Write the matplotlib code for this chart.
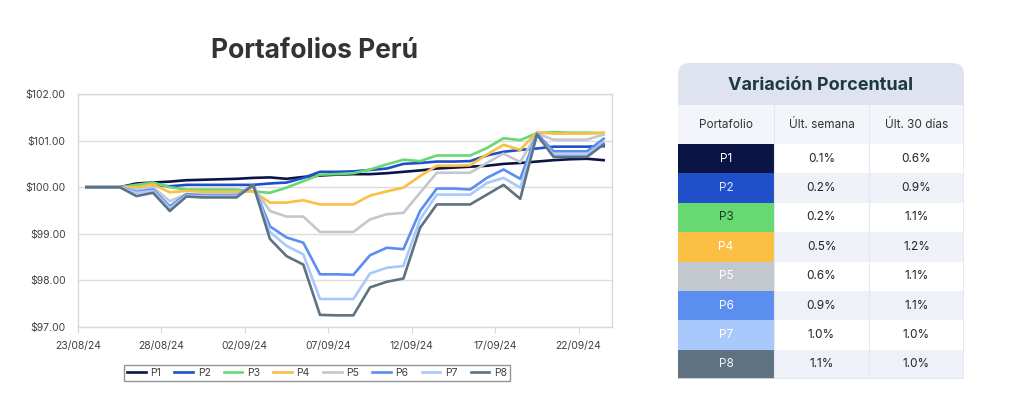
import numpy as np
import matplotlib.pyplot as plt
from matplotlib.patches import Rectangle, FancyBboxPatch

plt.rcParams['font.family'] = ['Inter', 'DejaVu Sans']

# daily values, 23/08/24 .. 23/09/24 (32 days, weekends included)
tick_labels = ['23/08/24', '28/08/24', '02/09/24', '07/09/24',
               '12/09/24', '17/09/24', '22/09/24']

p1 = [100.00, 100.00, 100.00, 100.08, 100.10, 100.12, 100.15, 100.16,
      100.17, 100.18, 100.20, 100.21, 100.18, 100.22, 100.25, 100.27,
      100.28, 100.28, 100.30, 100.33, 100.36, 100.40, 100.42, 100.44,
      100.46, 100.50, 100.52, 100.55, 100.58, 100.60, 100.61, 100.58]
p2 = [100.00, 100.00, 100.00, 100.05, 100.05, 100.02, 100.05, 100.05,
      100.05, 100.05, 100.05, 100.08, 100.10, 100.20, 100.33, 100.33,
      100.34, 100.37, 100.40, 100.50, 100.52, 100.55, 100.55, 100.56,
      100.68, 100.76, 100.80, 100.83, 100.87, 100.87, 100.87, 100.88]
p3 = [100.00, 100.00, 100.00, 100.05, 100.10, 100.00, 99.95, 99.95,
      99.95, 99.95, 99.91, 99.88, 99.99, 100.13, 100.27, 100.28,
      100.30, 100.38, 100.49, 100.59, 100.56, 100.68, 100.68, 100.68,
      100.84, 101.05, 101.01, 101.16, 101.18, 101.17, 101.17, 101.16]
p4 = [100.00, 100.00, 100.00, 100.00, 100.06, 99.89, 99.92, 99.90,
      99.90, 99.90, 99.91, 99.67, 99.67, 99.72, 99.63, 99.63,
      99.63, 99.82, 99.91, 99.99, 100.24, 100.46, 100.46, 100.47,
      100.70, 100.91, 100.80, 101.18, 101.15, 101.15, 101.15, 101.17]
p5 = [100.00, 100.00, 100.00, 99.95, 100.00, 99.70, 99.85, 99.85,
      99.85, 99.85, 100.00, 99.49, 99.37, 99.37, 99.04, 99.04,
      99.04, 99.31, 99.42, 99.45, 99.88, 100.31, 100.31, 100.31,
      100.52, 100.72, 100.54, 101.15, 101.02, 101.02, 101.02, 101.13]
p6 = [100.00, 100.00, 100.00, 99.90, 99.95, 99.59, 99.85, 99.82,
      99.82, 99.82, 100.05, 99.16, 98.92, 98.81, 98.13, 98.13,
      98.12, 98.54, 98.70, 98.67, 99.49, 99.97, 99.97, 99.95,
      100.20, 100.38, 100.18, 101.15, 100.77, 100.77, 100.77, 101.04]
p7 = [100.00, 100.00, 100.00, 99.88, 99.92, 99.55, 99.82, 99.80,
      99.80, 99.80, 100.05, 99.04, 98.74, 98.56, 97.60, 97.60,
      97.60, 98.15, 98.27, 98.31, 99.31, 99.84, 99.84, 99.84,
      100.09, 100.20, 99.99, 101.12, 100.70, 100.70, 100.70, 100.97]
p8 = [100.00, 100.00, 100.00, 99.81, 99.88, 99.49, 99.80, 99.78,
      99.78, 99.78, 100.05, 98.89, 98.52, 98.34, 97.26, 97.25,
      97.25, 97.85, 97.97, 98.04, 99.13, 99.63, 99.63, 99.63,
      99.84, 100.05, 99.75, 101.13, 100.65, 100.65, 100.65, 100.92]

names = ['P1', 'P2', 'P3', 'P4', 'P5', 'P6', 'P7', 'P8']
series = [p1, p2, p3, p4, p5, p6, p7, p8]
colors = ['#0b1545', '#1f4fc9', '#68d872', '#fbbf44',
          '#c3c8ce', '#5b8eee', '#a9c8fb', '#5e7282']

# table
ult_semana = ['0.1%', '0.2%', '0.2%', '0.5%', '0.6%', '0.9%', '1.0%', '1.1%']
ult_30 = ['0.6%', '0.9%', '1.1%', '1.2%', '1.1%', '1.1%', '1.0%', '1.0%']
label_colors = ['#ffffff', '#dfe6f7', '#1d3a2a', '#ffffff',
                '#ffffff', '#ffffff', '#ffffff', '#eef2f6']

W, H = 1024, 417
fig = plt.figure(figsize=(W / 100, H / 100), dpi=100)

# ---- line chart
ax = fig.add_axes([78 / W, 1 - 327 / H, (612 - 78) / W, (327 - 94) / H])
x = np.arange(len(p1)) + 0.5
for name, vals, c in zip(names, series, colors):
    ax.plot(x, vals, color=c, lw=1.9, label=name, solid_joinstyle='round')

ax.set_xlim(0, len(p1))
ax.set_ylim(97, 102)
ax.set_yticks(np.arange(97, 102.5, 1))
ax.set_yticklabels([f'${v:.2f}' for v in np.arange(97, 102.5, 1)])
ax.set_xticks(np.arange(0, 31, 5))
ax.set_xticklabels(tick_labels)
ax.tick_params(axis='y', length=0, pad=9, labelsize=7.5, labelcolor='#404040')
ax.tick_params(axis='x', length=4, color='#d9d9d9', pad=6, labelsize=7.5,
               labelcolor='#404040')
ax.grid(axis='y', color='#dcdcdc', lw=1)
ax.set_axisbelow(True)
for s in ax.spines.values():
    s.set_color('#d9d9d9')
    s.set_linewidth(1)

fig.text(315 / W, 1 - 51 / H, 'Portafolios Perú', ha='center', va='center',
         fontsize=19, fontweight='bold', color='#333333')

leg = fig.legend(loc='center', bbox_to_anchor=(317 / W, 1 - 373 / H), ncol=8,
                 fontsize=7.5, frameon=True, fancybox=False, handlelength=1.8,
                 columnspacing=1.25, handletextpad=0.45, borderpad=0.3)
leg.get_frame().set_edgecolor('#7a7a7a')
leg.get_frame().set_linewidth(1)
for t in leg.get_texts():
    t.set_color('#404040')

# ---- table (pixel coordinates inside its own axes)
tx0, tx1, ty0, ty1 = 678, 964, 62, 379
tab = fig.add_axes([tx0 / W, 1 - ty1 / H, (tx1 - tx0) / W, (ty1 - ty0) / H])
tab.set_xlim(0, tx1 - tx0)
tab.set_ylim(ty1 - ty0, 0)
tab.axis('off')

col_x = [0, 96, 191, 286]
head_h = 43
colh_h = 39
row_h = (ty1 - ty0 - head_h - colh_h) / len(names)

tab.add_patch(FancyBboxPatch((0, 1), 286, head_h + 20,
                             boxstyle='round,pad=0,rounding_size=12',
                             fc='#dee3ef', ec='none'))
tab.text(143, head_h / 2 + 2, 'Variación Porcentual', ha='center', va='center',
         fontsize=13, fontweight='bold', color='#1c3b3c')

tab.add_patch(Rectangle((0, head_h), 286, colh_h, fc='#f3f5fa', ec='none'))
for i, h in enumerate(['Portafolio', 'Últ. semana', 'Últ. 30 días']):
    tab.text((col_x[i] + col_x[i + 1]) / 2, head_h + colh_h / 2, h,
             ha='center', va='center', fontsize=8.5, color='#333333')

for r, name in enumerate(names):
    y0 = head_h + colh_h + r * row_h
    bg = '#ffffff' if r % 2 == 0 else '#eef1f8'
    tab.add_patch(Rectangle((col_x[1], y0), col_x[3] - col_x[1], row_h,
                            fc=bg, ec='none'))
    tab.add_patch(Rectangle((0, y0), col_x[1], row_h, fc=colors[r], ec='none'))
    tab.text(col_x[1] / 2, y0 + row_h / 2, name, ha='center', va='center',
             fontsize=8.5, color=label_colors[r])
    tab.text((col_x[1] + col_x[2]) / 2, y0 + row_h / 2, ult_semana[r],
             ha='center', va='center', fontsize=8.5, color='#222222')
    tab.text((col_x[2] + col_x[3]) / 2, y0 + row_h / 2, ult_30[r],
             ha='center', va='center', fontsize=8.5, color='#222222')
for cx in col_x[1:3]:
    tab.plot([cx, cx], [head_h, ty1 - ty0], color='#e4e7ee', lw=0.8, zorder=5)
# faint outer edge of the table body
tab.plot([286, 286, 0], [head_h, ty1 - ty0 - 0.5, ty1 - ty0 - 0.5],
         color='#e3e6ee', lw=1.2, zorder=6)

fig.savefig('out.png', dpi=100)
